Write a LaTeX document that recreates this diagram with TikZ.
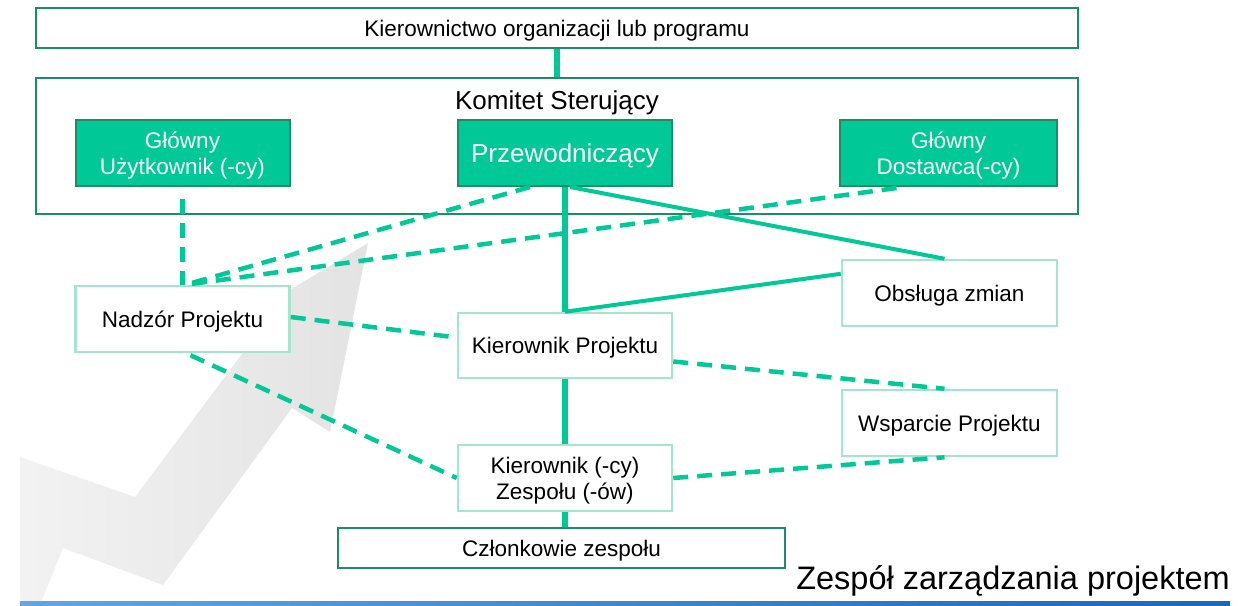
\documentclass[tikz,border=0pt]{standalone}
\usepackage{fontspec}
\setmainfont{Liberation Sans}
\usetikzlibrary{calc}
\definecolor{mint}{RGB}{0,200,150}
\definecolor{dkgreen}{RGB}{30,140,100}
\definecolor{ltgreen}{RGB}{165,228,205}
\definecolor{blueA}{RGB}{100,165,225}
\definecolor{blueB}{RGB}{25,105,180}
\begin{document}
\begin{tikzpicture}[x=1pt,y=-1pt,
  darkbox/.style={draw=dkgreen, line width=2.5pt, fill=white, inner sep=0pt, text=black, text depth=0pt, font=\fontsize{22.5}{26}\selectfont},
  fillbox/.style={draw=dkgreen, line width=2pt, fill=mint, inner sep=0pt, text=white, align=center, text depth=0pt, minimum width=214pt, minimum height=66pt, font=\fontsize{22.5}{26}\selectfont},
  lightbox/.style={draw=ltgreen, line width=2.5pt, fill=white, inner sep=0pt, text=black, align=center, text depth=0pt, minimum width=214pt, minimum height=66pt, font=\fontsize{22.5}{26}\selectfont},
  thickconn/.style={draw=mint, line width=6pt},
  solidconn/.style={draw=mint, line width=4pt},
  dashconn/.style={draw=mint, line width=4.5pt, dash pattern=on 15pt off 9pt}
]
\useasboundingbox (0,0) rectangle (1246,605);
% background arrow
\shade[left color=black!5, right color=black!11]
  (368,243) -- (330,432) -- (292,408) -- (163,585) -- (63,548) -- (40,605) -- (20,605) -- (20,457)
  -- (135,497) -- (245,350) -- (215,335) -- cycle;
% blue line
\shade[left color=blueA, right color=blueB] (20,601) rectangle (1230,605);

% frames
\node[darkbox, minimum width=1042pt, minimum height=40pt] (top) at (557,28) {Kierownictwo organizacji lub programu};
\node[darkbox, minimum width=1042pt, minimum height=136pt] (ks) at (557,146) {};
\node[font=\fontsize{26}{30}\selectfont, inner sep=0pt] (kslabel) at (557,103) {Komitet Sterujący};

% connectors (behind boxes)
\draw[thickconn] (top) -- (ks.north -| top);

\node[fillbox] (gu) at (182.5,153) {Główny\\Użytkownik (-cy)};
\node[fillbox, font=\fontsize{26}{30}\selectfont] (prz) at (565,153) {Przewodniczący};
\node[fillbox, minimum width=217pt] (gd) at (948.5,153) {Główny\\Dostawca(-cy)};

\node[lightbox] (nad) at (182.5,319) {Nadzór Projektu};
\node[lightbox, minimum height=65pt] (kp) at (565,345.5) {Kierownik Projektu};
\node[lightbox, minimum width=215pt] (obs) at (949.5,293) {Obsługa zmian};
\node[lightbox, minimum width=215pt] (wsp) at (949.5,423) {Wsparcie Projektu};
\node[lightbox] (kz) at (565,478) {Kierownik (-cy)\\Zespołu (-ów)};
\node[darkbox, minimum width=447pt, minimum height=40pt] (czl) at (561.5,548) {Członkowie zespołu};

\node[anchor=base east, inner sep=0pt, font=\fontsize{32.5}{38}\selectfont] (title) at (1230,589) {Zespół zarządzania projektem};

% solid connectors
\draw[solidconn] ($(obs.north west)!0.22!(obs.south west)$) -- (kp.north);
\draw[thickconn] (kp.north) -- (prz.south);
\draw[solidconn] ($(prz.south)+(5,0)$) -- ($(obs.north)+(-5,0)$);
\draw[thickconn] (kp) -- (kz);
\draw[thickconn] (kz.south) -- (kz.south |- czl.north);

% dashed connectors
\draw[dashconn] ($(gu.south)+(0,12)$) -- (nad.north);
\draw[dashconn] ($(prz.south)+(-35,0)$) -- ($(nad.north)+(3,0)$);
\draw[dashconn] ($(gd.south)+(-52,1)$) -- ($(nad.north)+(3,0)$);
\draw[dashconn] ($(nad.east)+(0,-2)$) -- ($(kp.west)+(0,-8)$);
\draw[dashconn] ($(nad.south)+(8,2)$) -- (kz.west);
\draw[dashconn] ($(kp.east)+(0,16)$) -- ($(wsp.north)+(-5,0)$);
\draw[dashconn] (kz.east) -- ($(wsp.south)+(-5,0)$);
\end{tikzpicture}
\end{document}
